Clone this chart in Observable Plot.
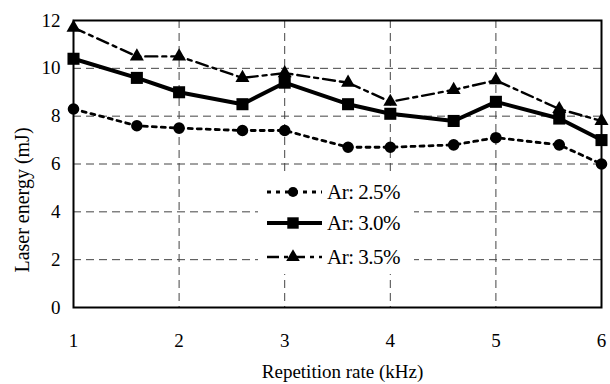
<!DOCTYPE html>
<html><head><meta charset="utf-8">
<script src="https://cdn.jsdelivr.net/npm/d3@7"></script>
<script src="https://cdn.jsdelivr.net/npm/@observablehq/plot@0.6"></script>
<style>
body{margin:0;background:#fff;}
#wrap{position:relative;width:610px;height:384px;font-family:"Liberation Serif","Times New Roman",serif;}
#wrap svg text{font-family:"Liberation Serif","Times New Roman",serif;}
#legend{position:absolute;left:258px;top:174px;width:156px;height:100px;background:#fff;}
.row{position:absolute;left:0;height:30px;display:flex;align-items:center;font-size:21px;letter-spacing:-0.5px;white-space:nowrap;}
.row svg{display:block;margin-right:5px;}
</style></head>
<body><div id="wrap"><div id="legend"></div></div>
<script>
const xs = [1, 1.6, 2, 2.6, 3, 3.6, 4, 4.6, 5, 5.6, 6];
const ar25 = [8.3, 7.6, 7.5, 7.4, 7.4, 6.7, 6.7, 6.8, 7.1, 6.8, 6.0];
const ar30 = [10.4, 9.6, 9.0, 8.5, 9.4, 8.5, 8.1, 7.8, 8.6, 7.9, 7.0];
const ar35 = [11.7, 10.5, 10.5, 9.6, 9.8, 9.4, 8.6, 9.1, 9.5, 8.3, 7.8];
const seriesNames = ["Ar: 2.5%", "Ar: 3.0%", "Ar: 3.5%"];
const xTicks = [1, 2, 3, 4, 5, 6];
const yTicks = [0, 2, 4, 6, 8, 10, 12];
const xTitle = "Repetition rate (kHz)";
const yTitle = "Laser energy (mJ)";

const styles = [
  {symbol: "circle", dash: "4,5", width: 2.8, r: 5.8},
  {symbol: "square", dash: null, width: 4, r: 6.8},
  {symbol: "triangle", dash: "12,5,4,5", width: 2.4, r: 5.2}
];
const allVals = [ar25, ar30, ar35];
const data = allVals.flatMap((vals, i) => vals.map((v, j) => ({x: xs[j], y: v, s: seriesNames[i], i})));

const marks = [
  Plot.gridY(yTicks.slice(1, -1), {stroke: "#444", strokeOpacity: 1, strokeDasharray: "8,5"}),
  Plot.gridX(xTicks.slice(1, -1), {stroke: "#444", strokeOpacity: 1, strokeDasharray: "8,5"}),
  Plot.frame({stroke: "black", strokeWidth: 2})
];
styles.forEach((st, i) => {
  const d = data.filter(e => e.i === i);
  marks.push(Plot.line(d, {x: "x", y: "y", stroke: "black", strokeWidth: st.width, strokeDasharray: st.dash}));
  marks.push(Plot.dot(d, {x: "x", y: "y", symbol: () => st.symbol, fill: "black", r: st.r}));
});
marks.push(
  Plot.axisX(xTicks, {tickSize: 0, tickPadding: 26, fontSize: 19, label: null}),
  Plot.axisY(yTicks, {tickSize: 0, tickPadding: 13, fontSize: 19, label: null}),
  Plot.text([xTitle], {frameAnchor: "bottom", textAnchor: "middle", lineAnchor: "middle", dy: 64, dx: 5, fontSize: 19}),
  Plot.text([yTitle], {frameAnchor: "left", textAnchor: "middle", lineAnchor: "middle", dx: -50.5, dy: 36, rotate: -90, fontSize: 20})
);

const chart = Plot.plot({
  width: 610, height: 384,
  marginLeft: 73, marginRight: 9, marginTop: 20, marginBottom: 77,
  x: {domain: [1, 6]},
  y: {domain: [0, 12]},
  symbol: {type: "identity"},
  style: {fontFamily: "'Liberation Serif', 'Times New Roman', serif", color: "black", background: "white"},
  marks
});
document.getElementById("wrap").prepend(chart);

const leg = document.getElementById("legend");
const tops = [3, 34, 68];
seriesNames.forEach((name, i) => {
  const st = styles[i];
  const row = document.createElement("div");
  row.className = "row";
  row.style.top = tops[i] + "px";
  const sym = d3.symbol(i === 0 ? d3.symbolCircle : i === 1 ? d3.symbolSquare : d3.symbolTriangle, i === 0 ? 80 : i === 1 ? 130 : 80)();
  row.innerHTML = `<svg width="64" height="30"><line x1="9" x2="64" y1="15" y2="15" stroke="black" stroke-width="${st.width}" ${st.dash ? `stroke-dasharray="${st.dash}"` : ""}/><path d="${sym}" transform="translate(35,15)" fill="black"/></svg><span>${name}</span>`;
  leg.appendChild(row);
});
</script></body></html>
